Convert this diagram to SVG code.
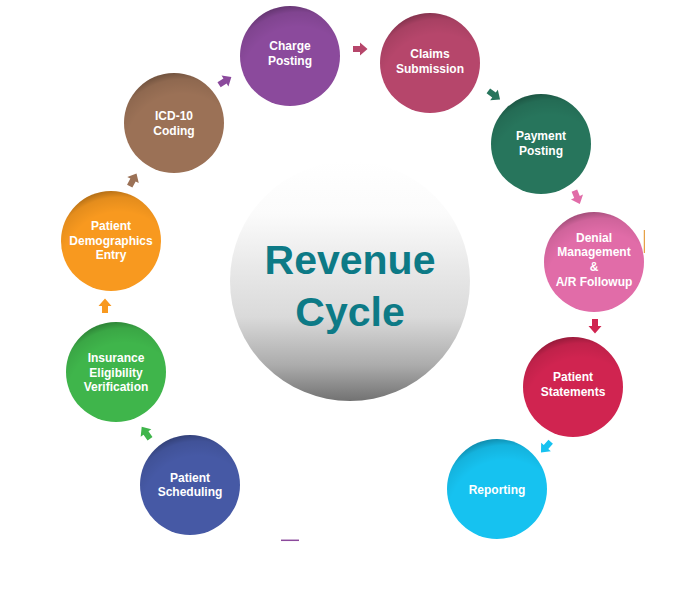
<svg xmlns="http://www.w3.org/2000/svg" xmlns:xlink="http://www.w3.org/1999/xlink" width="700" height="591" viewBox="0 0 700 591">
<defs>
<style>
.lbl{font-family:"Liberation Sans",Arial,sans-serif;font-weight:bold;font-size:12px;fill:#ffffff;text-anchor:middle;}
.title{font-family:"Liberation Sans",Arial,sans-serif;font-weight:bold;font-size:41px;fill:#0d7a86;text-anchor:middle;}
</style>
<radialGradient id="shade" cx="0.58" cy="0.78" r="0.8" fx="0.6" fy="0.8">
<stop offset="0" stop-color="#000" stop-opacity="0"/>
<stop offset="0.72" stop-color="#000" stop-opacity="0"/>
<stop offset="0.9" stop-color="#000" stop-opacity="0.08"/>
<stop offset="1" stop-color="#000" stop-opacity="0.3"/>
</radialGradient>
<linearGradient id="hub" x1="0" y1="0" x2="0" y2="1">
<stop offset="0" stop-color="#ffffff"/>
<stop offset="0.22" stop-color="#fbfbfb"/>
<stop offset="0.45" stop-color="#e8e8e8"/>
<stop offset="0.65" stop-color="#dadada"/>
<stop offset="0.85" stop-color="#acacac"/>
<stop offset="1" stop-color="#727272"/>
</linearGradient>
<path id="arr" d="M-7,-3 H0 V-6.5 L7.5,0 L0,6.5 V3 H-7 Z"/>
</defs>
<rect width="700" height="591" fill="#ffffff"/>

<g id="hub-node">
<circle cx="350" cy="281" r="120" fill="url(#hub)"/>
<text class="title" x="350" y="274">Revenue</text>
<text class="title" x="350" y="326">Cycle</text>
</g>

<g id="charge-posting">
<circle cx="290" cy="56" r="50" fill="#8b4a9c"/>
<circle cx="290" cy="56" r="50" fill="url(#shade)"/>
<text class="lbl" x="290" y="50">Charge</text>
<text class="lbl" x="290" y="65">Posting</text>
</g>
<g id="claims-submission">
<circle cx="430" cy="63" r="50" fill="#b6466b"/>
<circle cx="430" cy="63" r="50" fill="url(#shade)"/>
<text class="lbl" x="430" y="57.5">Claims</text>
<text class="lbl" x="430" y="72.5">Submission</text>
</g>
<g id="payment-posting">
<circle cx="541" cy="144" r="50" fill="#27755c"/>
<circle cx="541" cy="144" r="50" fill="url(#shade)"/>
<text class="lbl" x="541" y="139.5">Payment</text>
<text class="lbl" x="541" y="155">Posting</text>
</g>
<g id="denial-management">
<circle cx="594" cy="262" r="50" fill="#e16ca8"/>
<circle cx="594" cy="262" r="50" fill="url(#shade)"/>
<text class="lbl" x="594" y="242">Denial</text>
<text class="lbl" x="594" y="256">Management</text>
<text class="lbl" x="594" y="271">&amp;</text>
<text class="lbl" x="594" y="285.5">A/R Followup</text>
</g>
<g id="patient-statements">
<circle cx="573" cy="387" r="50" fill="#d02450"/>
<circle cx="573" cy="387" r="50" fill="url(#shade)"/>
<text class="lbl" x="573" y="381">Patient</text>
<text class="lbl" x="573" y="395.5">Statements</text>
</g>
<g id="reporting">
<circle cx="497" cy="489" r="50" fill="#16c2f0"/>
<circle cx="497" cy="489" r="50" fill="url(#shade)"/>
<text class="lbl" x="497" y="493.5">Reporting</text>
</g>
<g id="patient-scheduling">
<circle cx="190" cy="485" r="50" fill="#4659a5"/>
<circle cx="190" cy="485" r="50" fill="url(#shade)"/>
<text class="lbl" x="190" y="481.5">Patient</text>
<text class="lbl" x="190" y="496">Scheduling</text>
</g>
<g id="insurance-eligibility">
<circle cx="116" cy="372" r="50" fill="#3fb54b"/>
<circle cx="116" cy="372" r="50" fill="url(#shade)"/>
<text class="lbl" x="116" y="361.5">Insurance</text>
<text class="lbl" x="116" y="376.5">Eligibility</text>
<text class="lbl" x="116" y="391">Verification</text>
</g>
<g id="patient-demographics">
<circle cx="111" cy="241" r="50" fill="#f8991f"/>
<circle cx="111" cy="241" r="50" fill="url(#shade)"/>
<text class="lbl" x="111" y="229.5">Patient</text>
<text class="lbl" x="111" y="244.5">Demographics</text>
<text class="lbl" x="111" y="258.5">Entry</text>
</g>
<g id="icd10-coding">
<circle cx="174" cy="123" r="50" fill="#9b7156"/>
<circle cx="174" cy="123" r="50" fill="url(#shade)"/>
<text class="lbl" x="174" y="119.5">ICD-10</text>
<text class="lbl" x="174" y="134.5">Coding</text>
</g>

<g id="connectors">
<use xlink:href="#arr" transform="translate(225,81) rotate(-32)" fill="#8b4a9c"/>
<use xlink:href="#arr" transform="translate(360,49)" fill="#b6466b"/>
<use xlink:href="#arr" transform="translate(494,95) rotate(36)" fill="#27755c"/>
<use xlink:href="#arr" transform="translate(577,197) rotate(68)" fill="#e16ca8"/>
<use xlink:href="#arr" transform="translate(595,326) rotate(90)" fill="#d02450"/>
<use xlink:href="#arr" transform="translate(546,447) rotate(132)" fill="#16c2f0"/>
<use xlink:href="#arr" transform="translate(146,433) rotate(-125)" fill="#3fb54b"/>
<use xlink:href="#arr" transform="translate(105,306) rotate(-90)" fill="#f8991f"/>
<use xlink:href="#arr" transform="translate(133,180) rotate(-62)" fill="#9b7156"/>
</g>

<line x1="644.3" y1="230" x2="644.3" y2="253" stroke="#e08a1a" stroke-width="1"/>
<line x1="281" y1="540.3" x2="299" y2="540.3" stroke="#8b4a9c" stroke-width="1.5"/>
</svg>
